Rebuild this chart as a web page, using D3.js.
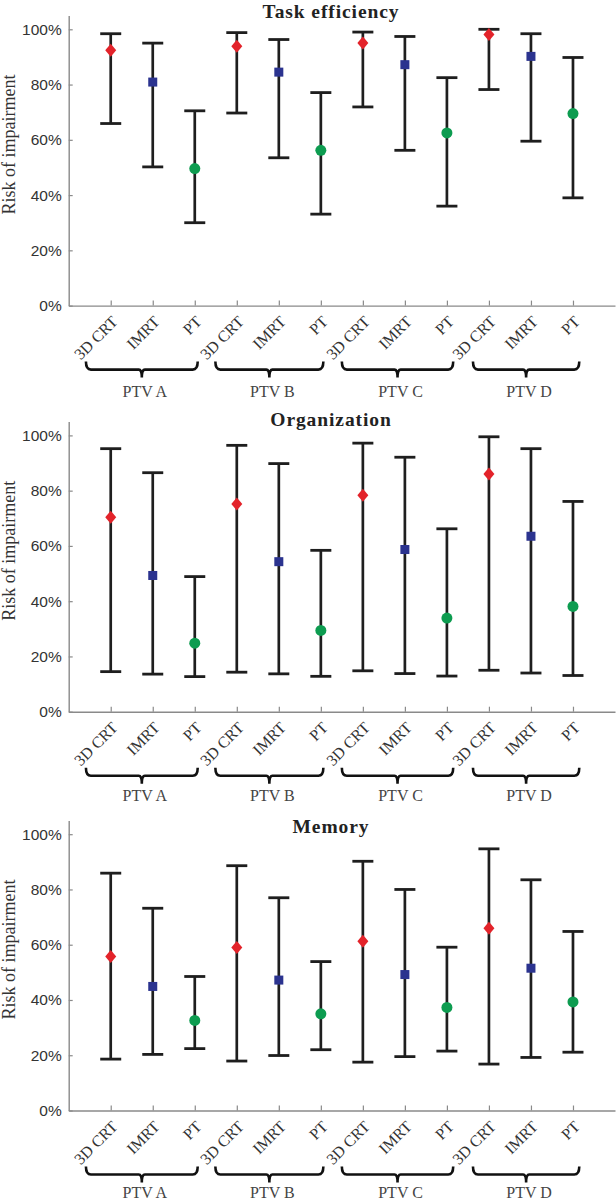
<!DOCTYPE html>
<html><head><meta charset="utf-8">
<script src="https://cdn.jsdelivr.net/npm/d3@7"></script>
<style>
html,body{margin:0;padding:0;background:#fff;}
svg{display:block;}
</style>
</head><body>
<svg id="chart" width="616" height="1202"></svg>
<script>
// ---- data ----
const categories = ["3D CRT", "IMRT", "PT"];
const groups = ["PTV A", "PTV B", "PTV C", "PTV D"];
const panelTitles = ["Task efficiency", "Organization", "Memory"];
const yTickValues = [0, 0.2, 0.4, 0.6, 0.8, 1.0];
const yTickLabels = ["0%", "20%", "40%", "60%", "80%", "100%"];
const yAxisLabel = "Risk of impairment";

const taskEst = [0.924, 0.809, 0.496, 0.939, 0.845, 0.562, 0.950, 0.872, 0.625, 0.981, 0.902, 0.695];
const taskLow = [0.659, 0.502, 0.300, 0.697, 0.535, 0.331, 0.719, 0.562, 0.360, 0.782, 0.595, 0.390];
const taskUp  = [0.984, 0.950, 0.705, 0.988, 0.963, 0.771, 0.990, 0.974, 0.825, 1.000, 0.984, 0.898];

const orgEst = [0.704, 0.493, 0.248, 0.752, 0.543, 0.294, 0.783, 0.587, 0.339, 0.860, 0.635, 0.381];
const orgLow = [0.145, 0.136, 0.127, 0.143, 0.137, 0.128, 0.148, 0.138, 0.129, 0.150, 0.140, 0.131];
const orgUp  = [0.952, 0.865, 0.489, 0.964, 0.898, 0.584, 0.972, 0.921, 0.662, 0.995, 0.952, 0.761];

const memEst = [0.557, 0.449, 0.326, 0.590, 0.472, 0.350, 0.613, 0.492, 0.373, 0.660, 0.515, 0.393];
const memLow = [0.186, 0.203, 0.224, 0.179, 0.199, 0.220, 0.175, 0.195, 0.215, 0.168, 0.192, 0.211];
const memUp  = [0.859, 0.732, 0.485, 0.886, 0.770, 0.539, 0.902, 0.800, 0.591, 0.947, 0.835, 0.648];

// brace extents in x-axis units (position index)
const braceStart = [0.41, 3.49, 6.50, 9.62];
const braceEnd   = [3.07, 6.06, 9.15, 12.15];

// ---- layout ----
const panelSeries = [
  {est: taskEst, low: taskLow, up: taskUp},
  {est: orgEst, low: orgLow, up: orgUp},
  {est: memEst, low: memLow, up: memUp}
];
const zeroY = [305.6, 711.7, 1110.5];
const titleY = [17.5, 426, 833];
const groupLabelDy = [91, 89, 87.5];
const spanY = 276.3;
const colors = {"3D CRT": "#e3232a", "IMRT": "#2b338f", "PT": "#0d9c50"};

const svg = d3.select("#chart");
const x = d3.scaleLinear().domain([0, 13]).range([68.7, 615]);

panelSeries.forEach((s, p) => {
  const y = d3.scaleLinear().domain([0, 1.05]).range([zeroY[p], zeroY[p] - 1.05 * spanY]);
  const g = svg.append("g");

  const rows = s.est.map((v, i) => ({
    pos: i + 1,
    cat: categories[i % 3],
    est: v, low: s.low[i], up: s.up[i]
  }));

  // y axis
  const yAxis = d3.axisRight(y).tickValues(yTickValues).tickFormat((d, i) => yTickLabels[i]).tickSize(4).tickSizeOuter(0);
  const ya = g.append("g").attr("transform", `translate(${x(0)},0)`).call(yAxis);
  ya.select(".domain").attr("stroke", "#8a8a8a").attr("stroke-width", 1.4);
  ya.selectAll(".tick line").attr("stroke", "#8a8a8a").attr("stroke-width", 1.2);
  ya.selectAll(".tick text")
    .attr("x", -7).attr("text-anchor", "end")
    .attr("font-family", "'Liberation Sans', Arial, sans-serif")
    .attr("font-size", "15.5px").attr("fill", "#333");

  // x axis
  const xAxis = d3.axisTop(x).tickValues(d3.range(1, 13)).tickFormat("").tickSize(5).tickSizeOuter(0);
  const xa = g.append("g").attr("transform", `translate(0,${zeroY[p]})`).call(xAxis);
  xa.select(".domain").attr("stroke", "#8a8a8a").attr("stroke-width", 1.4);
  xa.selectAll(".tick line").attr("stroke", "#8a8a8a").attr("stroke-width", 1.2);

  // rotated category labels
  g.selectAll(".xlab").data(rows).enter().append("text")
    .attr("class", "xlab")
    .attr("transform", d => `translate(${x(d.pos) + 8},${zeroY[p] + 17}) rotate(-45)`)
    .attr("text-anchor", "end")
    .attr("font-family", "'Liberation Serif', 'Times New Roman', serif")
    .attr("font-size", "16px").attr("fill", "#333")
    .text(d => d.cat);

  // error bars
  const eb = g.selectAll(".eb").data(rows).enter().append("g").attr("class", "eb");
  eb.append("line").attr("x1", d => x(d.pos)).attr("x2", d => x(d.pos))
    .attr("y1", d => y(d.low)).attr("y2", d => y(d.up))
    .attr("stroke", "#1e1e1e").attr("stroke-width", 2.7);
  eb.append("line").attr("x1", d => x(d.pos) - 10.5).attr("x2", d => x(d.pos) + 10.5)
    .attr("y1", d => y(d.up)).attr("y2", d => y(d.up))
    .attr("stroke", "#1e1e1e").attr("stroke-width", 2.8);
  eb.append("line").attr("x1", d => x(d.pos) - 10.5).attr("x2", d => x(d.pos) + 10.5)
    .attr("y1", d => y(d.low)).attr("y2", d => y(d.low))
    .attr("stroke", "#1e1e1e").attr("stroke-width", 2.8);

  // markers
  eb.each(function(d) {
    const m = d3.select(this);
    const cx = x(d.pos), cy = y(d.est);
    if (d.cat === "3D CRT") {
      m.append("path").attr("d", `M${cx},${cy - 6.5}L${cx + 5.5},${cy}L${cx},${cy + 6.5}L${cx - 5.5},${cy}Z`)
        .attr("fill", colors[d.cat]);
    } else if (d.cat === "IMRT") {
      m.append("rect").attr("x", cx - 4.5).attr("y", cy - 4.5).attr("width", 9).attr("height", 9)
        .attr("fill", colors[d.cat]);
    } else {
      m.append("circle").attr("cx", cx).attr("cy", cy).attr("r", 5.5).attr("fill", colors[d.cat]);
    }
  });

  // braces and group labels
  groups.forEach((name, k) => {
    const x0 = x(braceStart[k]), x1 = x(braceEnd[k]);
    const xc = (x0 + x1) / 2;
    const top = zeroY[p] + 56, bar = zeroY[p] + 64, tip = zeroY[p] + 72;
    const path = `M${x0},${top} Q${x0},${bar} ${x0 + 5},${bar} L${xc - 3},${bar} Q${xc},${bar} ${xc},${tip} ` +
                 `M${xc},${tip} Q${xc},${bar} ${xc + 3},${bar} L${x1 - 5},${bar} Q${x1},${bar} ${x1},${top}`;
    g.append("path").attr("d", path).attr("fill", "none").attr("stroke", "#111").attr("stroke-width", 2.6);
    g.append("text").attr("x", xc + 3).attr("y", zeroY[p] + groupLabelDy[p])
      .attr("text-anchor", "middle")
      .attr("font-family", "'Liberation Serif', 'Times New Roman', serif")
      .attr("font-size", "16px").attr("fill", "#444")
      .text(name);
  });

  // title
  g.append("text").attr("x", 331).attr("y", titleY[p])
    .attr("text-anchor", "middle")
    .attr("font-family", "'Liberation Serif', 'Times New Roman', serif")
    .attr("font-weight", "bold").attr("font-size", "19.5px").attr("letter-spacing", "0.9px")
    .attr("fill", "#222")
    .text(panelTitles[p]);

  // y label
  g.append("text")
    .attr("transform", `translate(15,${zeroY[p] - 161}) rotate(-90)`)
    .attr("text-anchor", "middle")
    .attr("font-family", "'Liberation Serif', 'Times New Roman', serif")
    .attr("font-size", "18px").attr("fill", "#333")
    .text(yAxisLabel);
});
</script>
</body></html>
